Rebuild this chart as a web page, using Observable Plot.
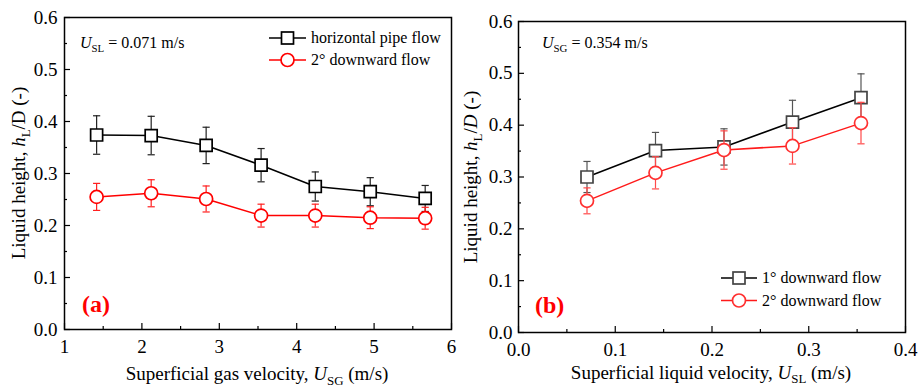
<!DOCTYPE html>
<html><head><meta charset="utf-8">
<script src="https://cdn.jsdelivr.net/npm/d3@7"></script>
<script src="https://cdn.jsdelivr.net/npm/@observablehq/plot@0.6"></script>
<style>
body{margin:0;background:#fff;}
#wrap{position:relative;width:919px;height:388px;overflow:hidden;background:#fff;}
#wrap svg{position:absolute;top:0;}
#wrap svg text{font-family:"Liberation Serif","DejaVu Serif",serif;}
</style></head><body><div id="wrap"></div>
<script>
// ---- Panel (a): U_SL = 0.071 m/s ----
const ugsA = [1.415, 2.12, 2.83, 3.54, 4.24, 4.95, 5.66];
const hHoriz = [0.374, 0.373, 0.354, 0.316, 0.275, 0.265, 0.252];
const hHorizErr = [0.037, 0.037, 0.035, 0.032, 0.028, 0.027, 0.025];
const hDown2A = [0.255, 0.262, 0.251, 0.219, 0.219, 0.215, 0.214];
const hDown2AErr = [0.026, 0.026, 0.025, 0.022, 0.022, 0.021, 0.021];

// ---- Panel (b): U_SG = 0.354 m/s ----
const uslB = [0.0708, 0.1416, 0.2124, 0.2832, 0.354];
const hDown1 = [0.300, 0.351, 0.358, 0.406, 0.453];
const hDown1Err = [0.030, 0.035, 0.035, 0.042, 0.046];
const hDown2B = [0.254, 0.308, 0.352, 0.360, 0.404];
const hDown2BErr = [0.025, 0.031, 0.037, 0.035, 0.040];

// ---- ticks ----
const xTicksA = [1, 2, 3, 4, 5, 6];
const xMinorA = [1.5, 2.5, 3.5, 4.5, 5.5];
const xTicksB = [0, 0.1, 0.2, 0.3, 0.4];
const xMinorB = [0.05, 0.15, 0.25, 0.35];
const yTicks = [0, 0.1, 0.2, 0.3, 0.4, 0.5, 0.6];
const yMinor = [0.05, 0.15, 0.25, 0.35, 0.45, 0.55];

const legendA = ["horizontal pipe flow", "2° downward flow"];
const legendB = ["1° downward flow", "2° downward flow"];

const FONT = "Liberation Serif, DejaVu Serif, serif";
const capSymbol = {draw(ctx, size) { const w = Math.sqrt(size / Math.PI); ctx.moveTo(-w, 0); ctx.lineTo(w, 0); }};
const squareSym = {draw(ctx, size) { const h = Math.sqrt(size / Math.PI); ctx.rect(-h, -h, 2 * h, 2 * h); }};

function seriesMarks(xs, ys, es, {color, markColor, errColor, symbol, r}) {
  const data = xs.map((x, i) => ({x, y: ys[i], lo: ys[i] - es[i], hi: ys[i] + es[i]}));
  return [
    Plot.line(data, {x: "x", y: "y", stroke: color, strokeWidth: 1.5}),
    Plot.ruleX(data, {x: "x", y1: "lo", y2: "hi", stroke: errColor, strokeWidth: 1.2}),
    Plot.dot(data, {x: "x", y: "hi", symbol: capSymbol, r: 3.6, stroke: errColor, strokeWidth: 1.2, fill: "none"}),
    Plot.dot(data, {x: "x", y: "lo", symbol: capSymbol, r: 3.6, stroke: errColor, strokeWidth: 1.2, fill: "none"}),
    Plot.dot(data, {x: "x", y: "y", symbol, r, stroke: markColor, fill: "white", strokeWidth: 1.7})
  ];
}

function axisMarks(xTicks, xMinor, xFmt, yPad) {
  return [
    Plot.axisX({ticks: xTicks, tickSize: -6, fill: "none", label: null, strokeWidth: 1.2}),
    Plot.axisX({ticks: xMinor, tickSize: -3, fill: "none", label: null, strokeWidth: 1.2}),
    Plot.axisX({ticks: xTicks, tickSize: 0, tickPadding: 10, tickFormat: xFmt, label: null, fontSize: 19}),
    Plot.axisY({ticks: yTicks, tickSize: -6, fill: "none", label: null, strokeWidth: 1.2}),
    Plot.axisY({ticks: yMinor, tickSize: -3, fill: "none", label: null, strokeWidth: 1.2}),
    Plot.axisY({ticks: yTicks, tickSize: 0, tickPadding: yPad, tickFormat: d3.format(".1f"), label: null, fontSize: 19}),
    Plot.frame({stroke: "black", strokeWidth: 1.5})
  ];
}

function richText(svg, {x, y, size, anchor = "start", rotate = 0, fill = "black", weight = "normal", sub = 0.26}, parts) {
  const t = d3.select(svg).append("text")
    .attr("font-family", FONT).attr("font-size", size)
    .attr("text-anchor", anchor).attr("fill", fill).attr("font-weight", weight);
  if (rotate) t.attr("transform", `translate(${x},${y}) rotate(${rotate})`);
  else t.attr("x", x).attr("y", y);
  let shifted = false;
  for (const p of parts) {
    const s = t.append("tspan").text(p.t);
    if (p.i) s.attr("font-style", "italic");
    if (p.sub) {
      s.attr("font-size", size * 0.68);
      if (!shifted) { s.attr("dy", size * sub); shifted = true; }
    } else if (shifted) { s.attr("dy", -size * sub); shifted = false; }
  }
  return t;
}

function legend(svg, {x0, x1, y0, dy}, labels, items) {
  const g = d3.select(svg).append("g");
  labels.forEach((lab, k) => {
    const y = y0 + k * dy, cx = (x0 + x1) / 2, it = items[k];
    g.append("line").attr("x1", x0).attr("x2", x1).attr("y1", y).attr("y2", y)
      .attr("stroke", it.color).attr("stroke-width", 1.5);
    if (it.shape === "square") {
      g.append("rect").attr("x", cx - 6).attr("y", y - 6).attr("width", 12).attr("height", 12)
        .attr("fill", "white").attr("stroke", it.markColor).attr("stroke-width", 1.7);
    } else {
      g.append("circle").attr("cx", cx).attr("cy", y).attr("r", 6.5)
        .attr("fill", "white").attr("stroke", it.markColor).attr("stroke-width", 1.7);
    }
    g.append("text").attr("x", x1 + 5).attr("y", y).attr("dy", "0.33em").attr("text-anchor", "start")
      .attr("font-family", FONT).attr("font-size", 16).attr("fill", "black").text(lab);
  });
}

const wrap = document.getElementById("wrap");

// ---------- Panel A ----------
const plotA = Plot.plot({
  width: 459, height: 388,
  marginLeft: 64, marginRight: 8, marginTop: 17, marginBottom: 59,
  style: {fontFamily: FONT, fontSize: "19px", color: "black", background: "white", overflow: "visible"},
  x: {domain: [1, 6]},
  y: {domain: [0, 0.6]},
  marks: [
    ...axisMarks(xTicksA, xMinorA, d => String(d), 7),
    ...seriesMarks(ugsA, hHoriz, hHorizErr, {color: "black", markColor: "black", errColor: "#222", symbol: squareSym, r: 6}),
    ...seriesMarks(ugsA, hDown2A, hDown2AErr, {color: "#ff0000", markColor: "#ff0000", errColor: "#ff2020", symbol: "circle", r: 6.5})
  ]
});
plotA.style.left = "0px";
wrap.appendChild(plotA);
richText(plotA, {x: 25, y: 173, size: 19, anchor: "middle", rotate: -90},
  [{t: "Liquid height, "}, {t: "h", i: true}, {t: "L", sub: true}, {t: "/D (-)"}]);
richText(plotA, {x: 257, y: 380, size: 19, anchor: "middle"},
  [{t: "Superficial gas velocity, "}, {t: "U", i: true}, {t: "SG", sub: true}, {t: " (m/s)"}]);
richText(plotA, {x: 80, y: 48, size: 16},
  [{t: "U", i: true}, {t: "SL", sub: true}, {t: " = 0.071 m/s"}]);
richText(plotA, {x: 82, y: 312, size: 24, fill: "#ff0000", weight: "bold"}, [{t: "(a)"}]);
legend(plotA, {x0: 269, x1: 306, y0: 38, dy: 22}, legendA,
  [{color: "black", markColor: "black", shape: "square"}, {color: "#ff0000", markColor: "#ff0000", shape: "circle"}]);

// ---------- Panel B ----------
const plotB = Plot.plot({
  width: 460, height: 388,
  marginLeft: 59, marginRight: 14, marginTop: 21, marginBottom: 56,
  style: {fontFamily: FONT, fontSize: "19px", color: "black", background: "white", overflow: "visible"},
  x: {domain: [0, 0.4]},
  y: {domain: [0, 0.6]},
  marks: [
    ...axisMarks(xTicksB, xMinorB, d3.format(".1f"), 6),
    ...seriesMarks(uslB, hDown1, hDown1Err, {color: "black", markColor: "#444", errColor: "#555", symbol: squareSym, r: 6}),
    ...seriesMarks(uslB, hDown2B, hDown2BErr, {color: "#ff1a1a", markColor: "#ff3030", errColor: "#ff4a4a", symbol: "circle", r: 6.5})
  ]
});
plotB.style.left = "459px";
wrap.appendChild(plotB);
richText(plotB, {x: 18, y: 177, size: 19, anchor: "middle", rotate: -90},
  [{t: "Liquid height, "}, {t: "h", i: true}, {t: "L", sub: true}, {t: "/"}, {t: "D", i: true}, {t: " (-)"}]);
richText(plotB, {x: 252, y: 379, size: 19, anchor: "middle", sub: 0.2},
  [{t: "Superficial liquid velocity, "}, {t: "U", i: true}, {t: "SL", sub: true}, {t: " (m/s)"}]);
richText(plotB, {x: 83, y: 48, size: 16},
  [{t: "U", i: true}, {t: "SG", sub: true}, {t: " = 0.354 m/s"}]);
richText(plotB, {x: 76, y: 313, size: 24, fill: "#ff0000", weight: "bold"}, [{t: "(b)"}]);
legend(plotB, {x0: 262, x1: 298, y0: 278, dy: 22.5}, legendB,
  [{color: "black", markColor: "#444", shape: "square"}, {color: "#ff1a1a", markColor: "#ff3030", shape: "circle"}]);
</script></body></html>
